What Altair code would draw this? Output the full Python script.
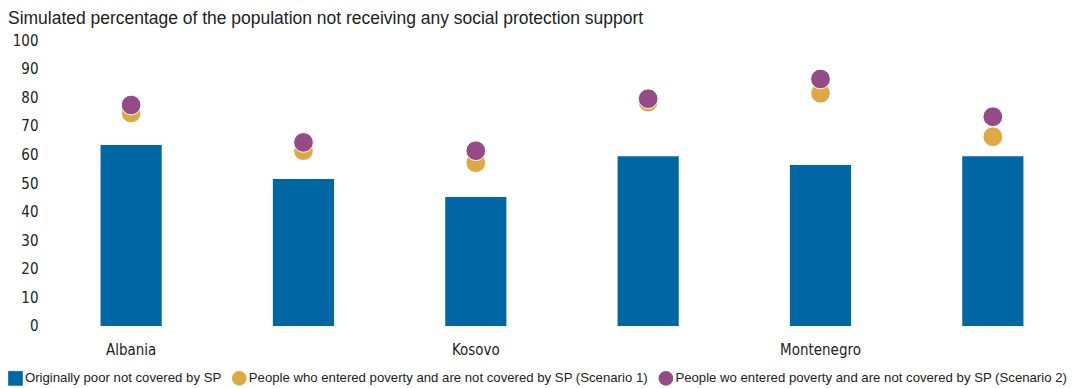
import altair as alt
import pandas as pd

countries = ["Albania", "Bosnia and Herzegovina", "Kosovo", "North Macedonia", "Montenegro", "Serbia"]
shown_labels = ["Albania", "Kosovo", "Montenegro"]
orig_poor = [63.3, 51.4, 45.1, 59.4, 56.3, 59.4]
scenario1 = [74.5, 61.3, 57.1, 78.3, 81.4, 66.2]
scenario2 = [77.3, 64.2, 61.3, 79.5, 86.4, 73.2]

series = [
    "Originally poor not covered by SP",
    "People who entered poverty and are not covered by SP (Scenario 1)",
    "People wo entered poverty and are not covered by SP (Scenario 2)",
]
colors = ["#0067A5", "#DEA944", "#954C86"]
shapes = ["square", "circle", "circle"]

bars = pd.DataFrame({"country": countries, "value": orig_poor, "series": series[0]})
pts = pd.concat([
    pd.DataFrame({"country": countries, "value": scenario1, "series": series[1], "order": 1}),
    pd.DataFrame({"country": countries, "value": scenario2, "series": series[2], "order": 2}),
])

narrow = "Liberation Sans Narrow, DejaVu Sans Condensed, sans-serif"
label_expr = "indexof(" + str(shown_labels) + ", datum.value) >= 0 ? datum.value : ''"

x = alt.X("country:N", sort=countries, title=None,
          scale=alt.Scale(paddingInner=0.645, paddingOuter=0.3225),
          axis=alt.Axis(labelExpr=label_expr, labelAngle=0, domain=False, ticks=False,
                        labelFont=narrow, labelFontSize=15, labelColor="#222222",
                        labelPadding=17, labelOverlap=False))
y = alt.Y("value:Q", title=None,
          scale=alt.Scale(domain=[0, 100], nice=False),
          axis=alt.Axis(values=list(range(0, 101, 10)), grid=False, domain=False, ticks=False,
                        labelFont=narrow, labelFontSize=15, labelColor="#222222", labelPadding=7))

legend = alt.Legend(title=None, orient="none", legendX=-37, legendY=331,
                    direction="horizontal", symbolSize=215,
                    symbolStrokeWidth=0, labelFont="Liberation Sans",
                    labelFontSize=13.2, labelColor="#222222",
                    labelOffset=2, columnPadding=10, symbolOpacity=1,
                    labelLimit=600)

color_scale = alt.Scale(domain=series, range=colors)
shape_scale = alt.Scale(domain=series, range=shapes)

bar_layer = alt.Chart(bars).mark_bar().encode(
    x=x, y=y,
    color=alt.Color("series:N", scale=color_scale, legend=legend),
)

point_layer = alt.Chart(pts).mark_point(filled=True, size=390, opacity=1,
                                         stroke="white", strokeWidth=1).encode(
    x=x, y=y,
    color=alt.Color("series:N", scale=color_scale, legend=legend),
    shape=alt.Shape("series:N", scale=shape_scale, legend=legend),
    order=alt.Order("order:Q"),
)

chart = alt.layer(bar_layer, point_layer).properties(
    width=1035, height=286,
    title=alt.TitleParams("Simulated percentage of the population not receiving any social protection support",
                          anchor="start", frame="group", dx=-37, offset=6,
                          font="Liberation Sans", fontSize=17.5, fontWeight="normal",
                          color="#222222"),
    autosize=alt.AutoSizeParams(type="none"),
    padding={"left": 37, "top": 32, "right": 0, "bottom": 61},
).configure_view(stroke=None)

chart.save("out.html", embed_options={"renderer": "svg", "actions": False})
